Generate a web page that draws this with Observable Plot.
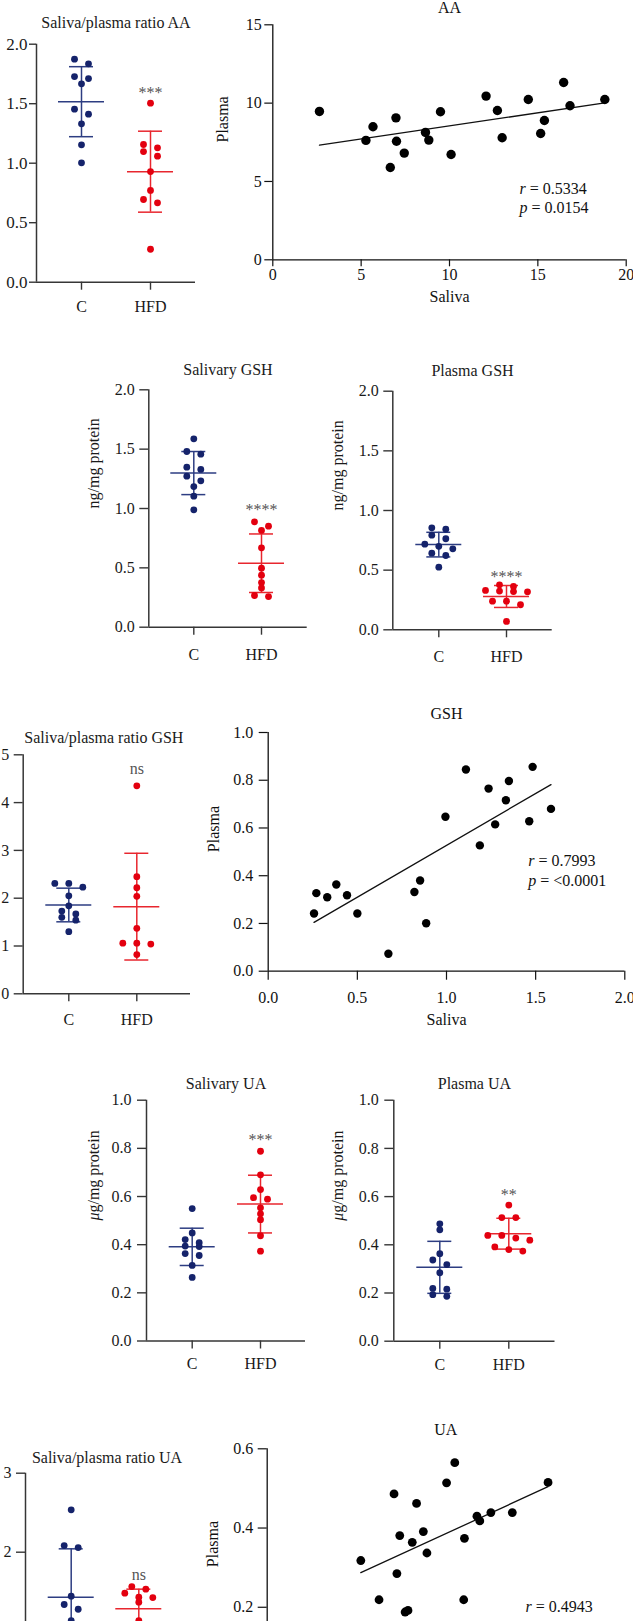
<!DOCTYPE html>
<html><head><meta charset="utf-8">
<script src="https://cdn.jsdelivr.net/npm/d3@7"></script>
<script src="https://cdn.jsdelivr.net/npm/@observablehq/plot@0.6"></script>
<style>
html,body{margin:0;padding:0;background:#fff;overflow:hidden;}
#fig{position:relative;width:633px;height:1621px;overflow:hidden;background:#fff;}
#fig svg{position:absolute;}
</style></head><body><div id="fig"></div>
<script>
// ---------- data ----------
const groups = ["C", "HFD"];

const ratioAA_C   = [1.874, 1.835, 1.728, 1.711, 1.667, 1.454, 1.412, 1.331, 1.154, 1.003];
const ratioAA_HFD = [1.504, 1.157, 1.129, 1.098, 1.059, 0.930, 0.771, 0.695, 0.667, 0.277];

const aaSaliva = [2.64, 5.27, 5.67, 6.97, 7.00, 7.44, 6.65, 8.64, 8.83, 9.49, 10.09, 12.07, 12.71, 12.98, 14.46, 15.16, 15.37, 16.46, 16.82, 18.79];
const aaPlasma = [9.47, 7.62, 8.49, 9.06, 7.57, 6.81, 5.89, 8.13, 7.64, 9.45, 6.72, 10.45, 9.53, 7.79, 10.23, 8.06, 8.89, 11.32, 9.83, 10.23];

const gshSal_C   = [1.587, 1.480, 1.458, 1.348, 1.329, 1.272, 1.233, 1.185, 1.104, 0.989];
const gshSal_HFD = [0.888, 0.851, 0.815, 0.669, 0.497, 0.438, 0.376, 0.331, 0.267, 0.258];

const gshPl_C   = [0.855, 0.843, 0.793, 0.763, 0.718, 0.700, 0.679, 0.642, 0.623, 0.525];
const gshPl_HFD = [0.377, 0.363, 0.330, 0.325, 0.320, 0.318, 0.240, 0.240, 0.210, 0.070];

const ratioGSH_C   = [2.31, 2.31, 2.23, 2.05, 1.84, 1.73, 1.67, 1.60, 1.54, 1.30];
const ratioGSH_HFD = [4.35, 2.45, 2.22, 2.04, 1.37, 1.06, 1.06, 1.04, 0.82];

const gshSaliva = [0.257, 0.270, 0.331, 0.382, 0.442, 0.500, 0.674, 0.820, 0.852, 0.886, 0.994, 1.109, 1.187, 1.236, 1.273, 1.333, 1.350, 1.464, 1.483, 1.586];
const gshPlasma = [0.242, 0.327, 0.310, 0.363, 0.318, 0.242, 0.073, 0.332, 0.380, 0.201, 0.647, 0.845, 0.527, 0.765, 0.615, 0.716, 0.797, 0.628, 0.856, 0.680];

const uaSal_C   = [0.550, 0.449, 0.421, 0.408, 0.394, 0.392, 0.363, 0.355, 0.314, 0.264];
const uaSal_HFD = [0.788, 0.690, 0.629, 0.595, 0.589, 0.553, 0.528, 0.504, 0.437, 0.373];

const uaPl_C   = [0.487, 0.462, 0.363, 0.337, 0.318, 0.284, 0.219, 0.216, 0.193, 0.186];
const uaPl_HFD = [0.565, 0.513, 0.513, 0.439, 0.439, 0.428, 0.419, 0.391, 0.380, 0.374];

const ratioUA_C   = [2.536, 2.084, 2.059, 1.443, 1.338, 1.278, 1.135, 1.00, 0.75, 0.68];
const ratioUA_HFD = [1.565, 1.532, 1.481, 1.430, 1.426, 1.367, 1.135, 1.00, 0.96, 0.93];

const uaSaliva = [0.262, 0.313, 0.355, 0.363, 0.371, 0.386, 0.394, 0.406, 0.418, 0.437, 0.447, 0.502, 0.525, 0.550, 0.552, 0.587, 0.595, 0.626, 0.686, 0.786];
const uaPlasma = [0.318, 0.219, 0.486, 0.285, 0.381, 0.188, 0.192, 0.364, 0.462, 0.391, 0.337, 0.514, 0.565, 0.219, 0.374, 0.430, 0.418, 0.439, 0.439, 0.515];

const sigLabels = ["***", "****", "****", "ns", "***", "**", "ns"];
const corrTexts = [["r = 0.5334", "p = 0.0154"], ["r = 0.7993", "p = <0.0001"], ["r = 0.4943", "p = 0.0047"]];

// ---------- styling ----------
const NAVY = "#15236b", NAVY_LINE = "#2d3d82", RED = "#e3000f", RED_LINE = "#e8262e", AXIS = "#363636";
const FONT = '"Liberation Serif", "Times New Roman", serif';
const fig = document.getElementById("fig");
const f1 = d3.format(".1f"), fd = d3.format("d");

function place(svg, left, top) {
  svg.style.left = left + "px";
  svg.style.top = top + "px";
  svg.querySelectorAll("text").forEach(t => {
    const s = t.textContent;
    let m;
    if ((m = s.match(/^([rp])( = .*)$/))) {
      d3.select(t).text(null);
      d3.select(t).append("tspan").attr("font-style", "italic").text(m[1]);
      d3.select(t).append("tspan").text(m[2]);
    } else if (s.startsWith("μ")) {
      d3.select(t).text(null);
      d3.select(t).append("tspan").attr("font-style", "italic").text("μ");
      d3.select(t).append("tspan").text(s.slice(1));
    }
  });
  fig.appendChild(svg);
}

// row-based scatter-dot layout: near-equal values share a row, spread symmetrically
function swarmOffsets(values, ky, d, step) {
  const order = values.map((v, i) => i).sort((a, b) => values[b] - values[a]);
  const off = new Array(values.length).fill(0);
  let row = [];
  const flush = () => { const n = row.length; row.forEach((i, k) => off[i] = (k - (n - 1) / 2) * step); row = []; };
  for (const i of order) {
    if (row.length && (values[row[0]] - values[i]) * ky >= 0.7 * d) flush();
    row.push(i);
  }
  flush();
  return off;
}

function dotPanel(c) {
  const kx = c.hPx - c.cPx;
  const x0 = -(c.cPx - c.axisX) / kx, x1 = 1 + (c.xEnd - c.hPx) / kx;
  const ky = (c.yBottom - c.yTop) / c.ymax;
  const dia = 2 * c.r + 0.6;
  const pts = [];
  [c.C, c.H].forEach((vals, g) => {
    const off = swarmOffsets(vals, ky, dia, c.step || 14);
    vals.forEach((v, i) => pts.push({g, v, x: g + off[i] / kx}));
  });
  const stats = [c.C, c.H].map((vals, g) => ({g, m: d3.mean(vals), s: d3.deviation(vals)}));
  const caps = stats.flatMap(s => [{g: s.g, y: s.m - s.s}, {g: s.g, y: s.m + s.s}]);
  const lineCol = d => d.g ? RED_LINE : NAVY_LINE;
  const svg = Plot.plot({
    width: c.width, height: c.height,
    marginLeft: c.axisX - c.left, marginRight: c.left + c.width - c.xEnd,
    marginTop: c.yTop - c.top, marginBottom: c.top + c.height - c.yBottom,
    x: {domain: [x0, x1]}, y: {domain: [0, c.ymax]},
    style: {fontFamily: FONT, fontSize: c.fs + "px", color: "#1a1a1a", background: "none", overflow: "visible"},
    marks: [
      Plot.axisY({ticks: c.yticks, tickFormat: c.yfmt, tickSize: c.yts, tickPadding: c.ytp, stroke: AXIS, strokeWidth: 1.4, label: null, fontSize: c.fs}),
      Plot.axisX({ticks: [0, 1], tickFormat: i => groups[i], tickSize: 8, tickPadding: c.xtp, stroke: AXIS, strokeWidth: 1.4, label: null, fontSize: 16}),
      Plot.ruleX([x0], {stroke: AXIS, strokeWidth: 1.5}),
      Plot.ruleY([0], {stroke: AXIS, strokeWidth: 1.5}),
      Plot.ruleX(stats, {x: "g", y1: s => s.m - s.s, y2: s => s.m + s.s, stroke: lineCol, strokeWidth: 1.5}),
      Plot.ruleY(caps, {y: "y", x1: d => d.g - 12 / kx, x2: d => d.g + 12 / kx, stroke: lineCol, strokeWidth: 1.5}),
      Plot.ruleY(stats, {y: "m", x1: d => d.g - 23 / kx, x2: d => d.g + 23 / kx, stroke: lineCol, strokeWidth: 1.5}),
      Plot.dot(pts, {x: "x", y: "v", r: c.r, fill: d => d.g ? RED : NAVY}),
      Plot.text([c.title], {frameAnchor: "top", dx: c.titleDx || 0, dy: c.titleY - c.yTop, lineAnchor: "middle", fontSize: 16}),
      Plot.text([{g: 1, v: d3.max(c.H), s: c.sig}], {x: "g", y: "v", text: "s", dy: -c.sigDy, fill: "#555", fontSize: 16, lineAnchor: "middle"}),
      c.ylabel ? Plot.text([c.ylabel], {frameAnchor: "left", rotate: -90, dx: c.ylabelX - c.axisX, lineAnchor: "middle", fontSize: 16}) : null
    ]
  });
  place(svg, c.left, c.top);
}

function scatterPanel(c) {
  const pts = c.xs.map((x, i) => ({x, y: c.ys[i]}));
  const mid = (c.yTop + c.yBottom) / 2;
  const svg = Plot.plot({
    width: c.width, height: c.height,
    marginLeft: c.axisX - c.left, marginRight: c.left + c.width - c.xEnd,
    marginTop: c.yTop - c.top, marginBottom: c.top + c.height - c.yBottom,
    x: {domain: c.xdom}, y: {domain: c.ydom},
    style: {fontFamily: FONT, fontSize: "16px", color: "#111", background: "none", overflow: "visible"},
    marks: [
      Plot.axisY({ticks: c.yticks, tickFormat: c.yfmt, tickSize: c.yts, tickPadding: c.ytp, stroke: "#111", strokeWidth: 1.2, label: null, fontSize: 16}),
      Plot.axisX({ticks: c.xticks, tickFormat: c.xfmt, tickSize: c.xts, tickPadding: c.xtp, stroke: "#111", strokeWidth: 1.2, label: null, fontSize: 16}),
      Plot.ruleX([c.xdom[0]], {stroke: "#111", strokeWidth: 1.3}),
      Plot.ruleY([c.ydom[0]], {stroke: "#111", strokeWidth: 1.3}),
      Plot.linearRegressionY(pts, {x: "x", y: "y", ci: 0, stroke: "#111", strokeWidth: 1.3}),
      Plot.dot(pts, {x: "x", y: "y", r: c.r, fill: "#000"}),
      Plot.text([c.title], {frameAnchor: "top", dy: c.titleY - c.yTop, lineAnchor: "middle", fontSize: 16}),
      Plot.text(["Saliva"], {frameAnchor: "bottom", dy: c.salivaY - c.yBottom, lineAnchor: "middle", fontSize: 16}),
      Plot.text(["Plasma"], {frameAnchor: "left", rotate: -90, dx: c.plasmaX - c.axisX, dy: c.plasmaY - mid, lineAnchor: "middle", fontSize: 16}),
      Plot.text([c.texts[0]], {frameAnchor: "top-left", dx: c.rX - c.axisX, dy: c.rY - c.yTop, textAnchor: "start", lineAnchor: "middle", fontSize: 16}),
      Plot.text([c.texts[1]], {frameAnchor: "top-left", dx: c.rX - c.axisX, dy: c.pY - c.yTop, textAnchor: "start", lineAnchor: "middle", fontSize: 16})
    ]
  });
  place(svg, c.left, c.top);
}

// ---------- row 1 ----------
dotPanel({left: 0, top: 0, width: 215, height: 330, axisX: 36, xEnd: 195, yTop: 43.7, yBottom: 281.7,
  cPx: 81, hPx: 150, ymax: 2, yticks: [0, 0.5, 1, 1.5, 2], yfmt: f1, r: 3.4, fs: 17, yts: 7, ytp: 2, xtp: 10,
  C: ratioAA_C, H: ratioAA_HFD, title: "Saliva/plasma ratio AA", titleY: 22, sig: sigLabels[0], sigDy: 10});

scatterPanel({left: 200, top: 0, width: 433, height: 320, axisX: 272.3, xEnd: 625.7, yTop: 24.3, yBottom: 259.3,
  xdom: [0, 20], ydom: [0, 15], xticks: [0, 5, 10, 15, 20], yticks: [0, 5, 10, 15], xfmt: fd, yfmt: fd,
  xts: 7, xtp: 2, yts: 8, ytp: 3, r: 4.7, xs: aaSaliva, ys: aaPlasma, title: "AA", titleY: 7,
  salivaY: 296, plasmaX: 222, plasmaY: 142, texts: corrTexts[0], rX: 519, rY: 188, pY: 207});

// ---------- row 2 ----------
dotPanel({left: 80, top: 340, width: 240, height: 330, axisX: 148.3, xEnd: 306.7, yTop: 389.3, yBottom: 626.7,
  cPx: 193.3, hPx: 261, ymax: 2, yticks: [0, 0.5, 1, 1.5, 2], yfmt: f1, r: 3.4, fs: 16, yts: 9, ytp: 5, xtp: 13,
  C: gshSal_C, H: gshSal_HFD, title: "Salivary GSH", titleY: 369, sig: sigLabels[1], sigDy: 12,
  ylabel: "ng/mg protein", ylabelX: 93});

dotPanel({left: 320, top: 340, width: 250, height: 330, axisX: 392.3, xEnd: 551.7, yTop: 390.7, yBottom: 629.3,
  cPx: 438.3, hPx: 506, ymax: 2, yticks: [0, 0.5, 1, 1.5, 2], yfmt: f1, r: 3.4, fs: 16, yts: 9, ytp: 5, xtp: 13,
  C: gshPl_C, H: gshPl_HFD, title: "Plasma GSH", titleY: 370, sig: sigLabels[2], sigDy: 8,
  ylabel: "ng/mg protein", ylabelX: 337.5});

// ---------- row 3 ----------
dotPanel({left: 0, top: 700, width: 200, height: 340, axisX: 22.7, xEnd: 190, yTop: 754.3, yBottom: 993.3,
  cPx: 68.3, hPx: 136.3, ymax: 5, yticks: [0, 1, 2, 3, 4, 5], yfmt: fd, r: 3.4, fs: 16, yts: 9, ytp: 5, xtp: 12,
  C: ratioGSH_C, H: ratioGSH_HFD, title: "Saliva/plasma ratio GSH", titleY: 737, titleDx: -3, sig: sigLabels[3], sigDy: 17});

scatterPanel({left: 195, top: 690, width: 438, height: 345, axisX: 267.7, xEnd: 624.3, yTop: 732, yBottom: 970.7,
  xdom: [0, 2], ydom: [0, 1], xticks: [0, 0.5, 1, 1.5, 2], yticks: [0, 0.2, 0.4, 0.6, 0.8, 1], xfmt: f1, yfmt: f1,
  xts: 9, xtp: 11, yts: 9, ytp: 6, r: 4.2, xs: gshSaliva, ys: gshPlasma, title: "GSH", titleY: 713.5,
  salivaY: 1019, plasmaX: 213, plasmaY: 851.7, texts: corrTexts[1], rX: 527.7, rY: 860, pY: 880});

// ---------- row 4 ----------
dotPanel({left: 80, top: 1060, width: 240, height: 320, axisX: 146, xEnd: 305, yTop: 1099.7, yBottom: 1340.5,
  cPx: 191.7, hPx: 260, ymax: 1, yticks: [0, 0.2, 0.4, 0.6, 0.8, 1], yfmt: f1, r: 3.4, fs: 16, yts: 9, ytp: 6, xtp: 9,
  C: uaSal_C, H: uaSal_HFD, title: "Salivary UA", titleY: 1083.5, sig: sigLabels[4], sigDy: 11,
  ylabel: "μg/mg protein", ylabelX: 93});

dotPanel({left: 320, top: 1060, width: 250, height: 320, axisX: 393.3, xEnd: 554.5, yTop: 1099.7, yBottom: 1340.7,
  cPx: 439.3, hPx: 508.3, ymax: 1, yticks: [0, 0.2, 0.4, 0.6, 0.8, 1], yfmt: f1, r: 3.4, fs: 16, yts: 9, ytp: 6, xtp: 9,
  C: uaPl_C, H: uaPl_HFD, title: "Plasma UA", titleY: 1083.5, sig: sigLabels[5], sigDy: 10.5,
  ylabel: "μg/mg protein", ylabelX: 337.5});

// ---------- row 5 ----------
dotPanel({left: 0, top: 1430, width: 200, height: 320, axisX: 25, xEnd: 188, yTop: 1472.7, yBottom: 1709.7,
  cPx: 70.7, hPx: 138.3, ymax: 3, yticks: [0, 1, 2, 3], yfmt: fd, r: 3.4, fs: 16, yts: 9, ytp: 5, xtp: 12,
  C: ratioUA_C, H: ratioUA_HFD, title: "Saliva/plasma ratio UA", titleY: 1457, sig: sigLabels[6], sigDy: 12});

scatterPanel({left: 195, top: 1400, width: 438, height: 340, axisX: 266.7, xEnd: 624, yTop: 1448.3, yBottom: 1686,
  xdom: [0, 1], ydom: [0, 0.6], xticks: [0, 0.2, 0.4, 0.6, 0.8, 1], yticks: [0, 0.2, 0.4, 0.6], xfmt: f1, yfmt: f1,
  xts: 9, xtp: 11, yts: 9, ytp: 5, r: 4.4, xs: uaSaliva, ys: uaPlasma, title: "UA", titleY: 1429,
  salivaY: 1734, plasmaX: 212.7, plasmaY: 1566.7, texts: corrTexts[2], rX: 525, rY: 1606, pY: 1626});
</script>
</body></html>
